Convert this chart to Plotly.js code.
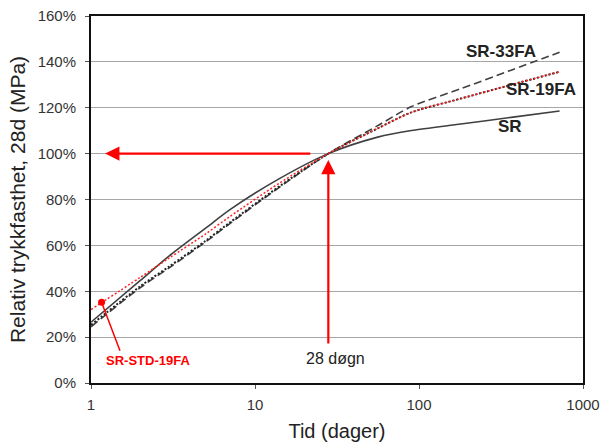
<!DOCTYPE html>
<html>
<head>
<meta charset="utf-8">
<script src="https://cdn.plot.ly/plotly-3.0.1.min.js"></script>
<style>html,body{margin:0;padding:0;background:#fff;}#chart{width:602px;height:445px;}</style>
</head>
<body>
<div id="chart"></div>
<script>
// Age in days
const ages = [1, 2, 3, 5, 7, 14, 28, 56, 90, 180, 365, 720];
// Relative compressive strength (% of 28-day)
const srValues      = [26.5, 44.7, 55.4, 67.5, 75.5, 89.0, 100, 107.2, 110.1, 112.9, 115.8, 118.6];
const sr33faValues  = [24.5, 41.6, 50.2, 61.5, 69.4, 85.2, 100, 112.2, 120.5, 128.3, 136.4, 144.2];
const sr19faValues  = [25.3, 42.2, 50.8, 62.0, 69.9, 85.6, 100, 111.0, 118.0, 124.0, 130.0, 135.7];
const srStd19faValues = [32.0, 46.1, 54.5, 65.0, 72.5, 87.0, 100, 111.0, 118.0, 124.0, 130.0, 135.7];
// marked point for the SR-STD-19FA label
const stdMarkX = [1.16];
const stdMarkY = [35.2];
// axis ticks
const xTicks = [1, 10, 100, 1000];
const xTickText = ['1', '10', '100', '1000'];
const yTicks = [0, 20, 40, 60, 80, 100, 120, 140, 160];
const yTickText = ['0%', '20%', '40%', '60%', '80%', '100%', '120%', '140%', '160%'];
const refDay = 28;
const refLevel = 100;

const FONT = 'Liberation Sans, Arial, sans-serif';
const lg = Math.log10;

const traces = [
  {x: ages, y: sr33faValues, mode: 'lines', name: 'SR-33FA',
   line: {color: '#404040', width: 1.6, dash: '8px,4px', shape: 'spline', smoothing: 0.8}},
  {x: ages, y: sr19faValues, mode: 'lines', name: 'SR-19FA',
   line: {color: '#222222', width: 2, dash: '2px,2px', shape: 'spline', smoothing: 0.8}},
  {x: ages, y: srValues, mode: 'lines', name: 'SR',
   line: {color: '#404040', width: 1.6, shape: 'spline', smoothing: 0.8}},
  {x: ages, y: srStd19faValues, mode: 'lines', name: 'SR-STD-19FA',
   line: {color: '#ff2020', width: 1.5, dash: '2px,2px', shape: 'spline', smoothing: 0.8}},
  {x: stdMarkX, y: stdMarkY, mode: 'markers', name: 'mark',
   marker: {color: '#ff0000', size: 7}}
];

const layout = {
  width: 602, height: 445,
  margin: {l: 91, r: 19, t: 16, b: 62},
  paper_bgcolor: '#ffffff', plot_bgcolor: '#ffffff',
  showlegend: false,
  font: {family: FONT, color: '#333333'},
  xaxis: {
    type: 'log', range: [0, 3],
    tickvals: xTicks, ticktext: xTickText,
    showgrid: false, zeroline: false,
    showline: true, linecolor: '#111111', linewidth: 2, mirror: true,
    ticks: 'outside', ticklen: 4, tickcolor: '#555555',
    ticklabelstandoff: 3,
    tickfont: {size: 15, color: '#333333', family: FONT},
    title: {text: 'Tid (dager)', font: {size: 20, color: '#222222', family: FONT}, standoff: 12}
  },
  yaxis: {
    range: [0, 160],
    tickvals: yTicks, ticktext: yTickText,
    showgrid: true, gridcolor: '#a6a6a6', gridwidth: 1,
    zeroline: false,
    showline: true, linecolor: '#111111', linewidth: 2, mirror: true,
    ticks: 'outside', ticklen: 4, tickcolor: '#555555',
    ticklabelstandoff: 6,
    tickfont: {size: 15, color: '#333333', family: FONT},
    title: {text: 'Relativ trykkfasthet, 28d (MPa)', font: {size: 21, color: '#222222', family: FONT}, standoff: 6}
  },
  annotations: [
    // leader line from marked point to label
    {xref: 'x', yref: 'y', x: lg(stdMarkX[0]), y: stdMarkY[0], ax: 19, ay: 50,
     showarrow: true, arrowhead: 0, arrowwidth: 1.5, arrowcolor: '#ff0000', text: '', standoff: 0},
    // horizontal arrow to 100 %
    {xref: 'x', yref: 'y', axref: 'x', ayref: 'y',
     x: lg(1.22), y: refLevel, ax: lg(22.2), ay: refLevel,
     showarrow: true, arrowhead: 2, arrowsize: 1.3, arrowwidth: 2.2, arrowcolor: '#ff0000', text: ''},
    // vertical arrow at 28 days
    {xref: 'x', yref: 'y', axref: 'x', ayref: 'y',
     x: lg(refDay), y: 97.2, ax: lg(refDay), ay: 16.6,
     showarrow: true, arrowhead: 2, arrowsize: 1.3, arrowwidth: 2.2, arrowcolor: '#ff0000', text: ''},
    {xref: 'x', yref: 'y', x: 1.488, y: 10.9, text: '28 døgn', showarrow: false,
     font: {size: 16, color: '#222222', family: FONT}},
    {xref: 'x', yref: 'y', x: 0.348, y: 10.0, text: '<b>SR-STD-19FA</b>', showarrow: false,
     font: {size: 13, color: '#ff0000', family: FONT}},
    {xref: 'x', yref: 'y', x: 2.5, y: 144.4, text: '<b>SR-33FA</b>', showarrow: false,
     font: {size: 17, color: '#222222', family: FONT}},
    {xref: 'x', yref: 'y', x: 2.744, y: 128, text: '<b>SR-19FA</b>', showarrow: false,
     font: {size: 17, color: '#222222', family: FONT}},
    {xref: 'x', yref: 'y', x: 2.555, y: 112, text: '<b>SR</b>', showarrow: false,
     font: {size: 17, color: '#222222', family: FONT}}
  ]
};

Plotly.newPlot('chart', traces, layout, {displayModeBar: false, staticPlot: true});
</script>
</body>
</html>
